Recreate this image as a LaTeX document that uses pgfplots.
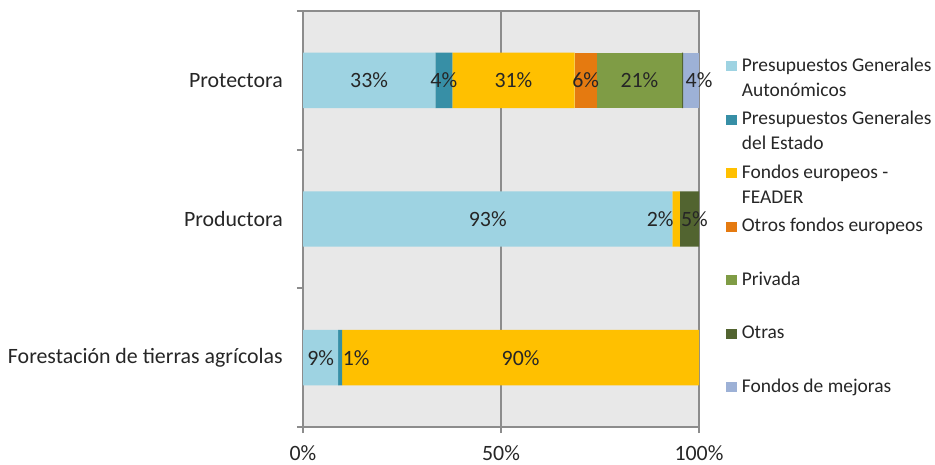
\documentclass[border=0pt]{standalone}
\usepackage{pgfplots}
\pgfplotsset{compat=1.18}
\usepackage{fontspec}
\setmainfont{Carlito}

\definecolor{cAuto}{HTML}{9ED3E2}
\definecolor{cEstado}{HTML}{378FA6}
\definecolor{cFeader}{HTML}{FFC000}
\definecolor{cOtrosEU}{HTML}{E57A10}
\definecolor{cPrivada}{HTML}{7F9C45}
\definecolor{cOtras}{HTML}{526430}
\definecolor{cMejoras}{HTML}{9DB1D6}
\definecolor{cBack}{HTML}{E8E8E8}
\definecolor{cAxis}{HTML}{8C8C8C}
\definecolor{cText}{HTML}{262626}

\begin{document}
\begin{tikzpicture}[font=\fontsize{16.4}{19.5}\selectfont]
\begin{axis}[
    at={(227.25pt,27.75pt)}, anchor=south west,
    scale only axis,
    width=297pt, height=312pt,
    xbar stacked,
    bar width=0.4,
    xmin=0, xmax=100,
    ymin=-0.5, ymax=2.5,
    xtick={0,50,100},
    xticklabels={0\%,50\%,100\%},
    ytick={-0.5,0.5,1.5,2.5},
    yticklabels={},
    extra y ticks={0,1,2},
    extra y tick labels={Forestación de tierras agrícolas,Productora,Protectora},
    extra y tick style={major tick length=0pt, yticklabel style={inner sep=0pt, xshift=-15pt}},
    xtick pos=bottom, ytick pos=left,
    tick align=outside,
    major tick length=4.5pt,
    tick style={cAxis, line width=1.4pt},
    axis line style={cAxis, line width=1.4pt},
    xmajorgrids,
    grid style={cAxis, line width=1.4pt},
    axis background/.style={fill=cBack},
    ticklabel style={text=cText},
    xticklabel style={inner sep=0pt, yshift=-9pt},
    clip=false,
    point meta=explicit symbolic,
    nodes near coords,
    visualization depends on={value \thisrow{dx} \as \dx},
    every node near coord/.append style={text=cText, xshift=\dx pt},
    legend style={draw=none, fill=none, at={(1.068,0.8974)}, anchor=north west,
        inner sep=0pt, row sep=0pt, column sep=3.75pt,
        font=\fontsize{14.6}{18.75}\selectfont,
        cells={anchor=base west},
        nodes={inner sep=0pt, text=cText, text height=13.125pt, text depth=5.625pt}},
    legend image code/.code={\fill[#1] (0pt,0.25pt) rectangle (8pt,7.75pt);},
]
\addplot[fill=cAuto, draw=none] table[x=x, y=y, meta=l, row sep=\\] {
x y l dx\\ 8.9 0 9\% 0\\ 93.3 1 93\% 0\\ 33.4 2 33\% 0\\ };
\addlegendentry{Presupuestos Generales}
\addlegendimage{empty legend}
\addlegendentry[text depth=8.25pt]{Autonómicos}
\addplot[fill=cEstado, draw=none] table[x=x, y=y, meta=l, row sep=\\] {
x y l dx\\ 1.0 0 1\% 12\\ 0 1 {} 0\\ 4.3 2 4\% 0\\ };
\addlegendentry{Presupuestos Generales}
\addlegendimage{empty legend}
\addlegendentry[text depth=8.25pt]{del Estado}
\addplot[fill=cFeader, draw=none] table[x=x, y=y, meta=l, row sep=\\] {
x y l dx\\ 90.1 0 90\% 0\\ 1.9 1 2\% -12\\ 30.9 2 31\% 0\\ };
\addlegendentry{Fondos europeos -}
\addlegendimage{empty legend}
\addlegendentry[text depth=8.25pt]{FEADER}
\addplot[fill=cOtrosEU, draw=none] table[x=x, y=y, meta=l, row sep=\\] {
x y l dx\\ 0 0 {} 0\\ 0 1 {} 0\\ 5.6 2 6\% 0\\ };
\addlegendentry{Otros fondos europeos}
\addlegendimage{empty legend}
\addlegendentry[text depth=8.25pt]{}
\addplot[fill=cPrivada, draw=none] table[x=x, y=y, meta=l, row sep=\\] {
x y l dx\\ 0 0 {} 0\\ 0 1 {} 0\\ 21.5 2 21\% 0\\ };
\addlegendentry{Privada}
\addlegendimage{empty legend}
\addlegendentry[text depth=8.25pt]{}
\addplot[fill=cOtras, draw=none] table[x=x, y=y, meta=l, row sep=\\] {
x y l dx\\ 0 0 {} 0\\ 4.8 1 5\% 3.75\\ 0.3 2 {} 0\\ };
\addlegendentry{Otras}
\addlegendimage{empty legend}
\addlegendentry[text depth=8.25pt]{}
\addplot[fill=cMejoras, draw=none] table[x=x, y=y, meta=l, row sep=\\] {
x y l dx\\ 0 0 {} 0\\ 0 1 {} 0\\ 4.0 2 4\% 6\\ };
\addlegendentry{Fondos de mejoras}
\end{axis}
\pgfresetboundingbox
\path[use as bounding box] (0,0) rectangle (701.25pt,348pt);
\end{tikzpicture}
\end{document}
